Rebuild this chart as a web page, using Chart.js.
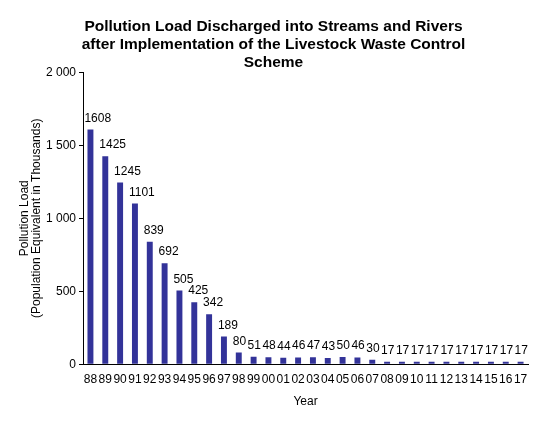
<!DOCTYPE html>
<html>
<head>
<meta charset="utf-8">
<script src="https://cdn.jsdelivr.net/npm/chart.js@4.4.1/dist/chart.umd.min.js"></script>
<style>
	html, body { margin: 0; padding: 0; background: #fff; }
	#chrt { display: block; }
</style>
</head>
<body>
<canvas id="chrt" width="540" height="430"></canvas>
<script>
var years = ['88', '89', '90', '91', '92', '93', '94', '95', '96', '97',
	'98', '99', '00', '01', '02', '03', '04', '05', '06', '07',
	'08', '09', '10', '11', '12', '13', '14', '15', '16', '17'];
var pollutionLoad = [1608, 1425, 1245, 1101, 839, 692, 505, 425, 342, 189,
	80, 51, 48, 44, 46, 47, 43, 50, 46, 30,
	17, 17, 17, 17, 17, 17, 17, 17, 17, 17];
var titleLines = ['Pollution Load Discharged into Streams and Rivers',
	'after Implementation of the Livestock Waste Control',
	'Scheme'];
var yTitleLines = ['Pollution Load', '(Population Equivalent in Thousands)'];
var xTitle = 'Year';

var fontName = '"Liberation Sans", Arial, sans-serif';

// value labels above each bar, a bit to the right like the original
var barLabels = {
	id: 'barLabels',
	afterDatasetsDraw: function (chart) {
		var ctx = chart.ctx;
		var meta = chart.getDatasetMeta(0);
		ctx.save();
		ctx.font = '12px ' + fontName;
		ctx.fillStyle = '#000';
		ctx.textAlign = 'left';
		ctx.textBaseline = 'alphabetic';
		meta.data.forEach(function (bar, i) {
			ctx.fillText(String(chart.data.datasets[0].data[i]), bar.x - 6, bar.y - 8);
		});
		ctx.restore();
	}
};

function spaceThousands(v) {
	return String(v).replace(/\B(?=(\d{3})+(?!\d))/g, ' ');
}

var ctx = document.getElementById('chrt').getContext('2d');
var chart = new Chart(ctx, {
	type: 'bar',
	data: {
		labels: years,
		datasets: [
			{
				label: 'Pollution Load',
				data: pollutionLoad,
				backgroundColor: '#333399',
				barPercentage: 0.4,
				categoryPercentage: 1.0
			}
		]
	},
	options: {
		responsive: false,
		animation: false,
		layout: {
			padding: { left: 19, right: 12, top: 0, bottom: 21 }
		},
		plugins: {
			legend: { display: false },
			tooltip: { enabled: false },
			title: {
				display: true,
				text: titleLines,
				color: '#000',
				font: { family: fontName, size: 15.5, weight: 'bold', lineHeight: 1.19 },
				padding: { top: 17, bottom: 0 }
			}
		},
		scales: {
			x: {
				grid: { display: false },
				border: { display: true, color: '#000', width: 1 },
				ticks: {
					color: '#000',
					font: { family: fontName, size: 12 },
					maxRotation: 0,
					autoSkip: false,
					padding: 0
				},
				title: {
					display: true,
					text: xTitle,
					color: '#000',
					font: { family: fontName, size: 12 },
					padding: { top: 8, bottom: 0 }
				}
			},
			y: {
				min: 0,
				max: 2000,
				grid: { drawOnChartArea: false, drawTicks: true, tickLength: 4, color: '#000' },
				border: { display: true, color: '#000', width: 1 },
				ticks: {
					stepSize: 500,
					color: '#000',
					font: { family: fontName, size: 12 },
					padding: 3,
					callback: function (v) { return spaceThousands(v); }
				},
				title: {
					display: true,
					text: yTitleLines,
					color: '#000',
					font: { family: fontName, size: 12, lineHeight: 1.0 },
					padding: { top: 0, bottom: 0 }
				}
			}
		}
	},
	plugins: [barLabels]
});
</script>
</body>
</html>
